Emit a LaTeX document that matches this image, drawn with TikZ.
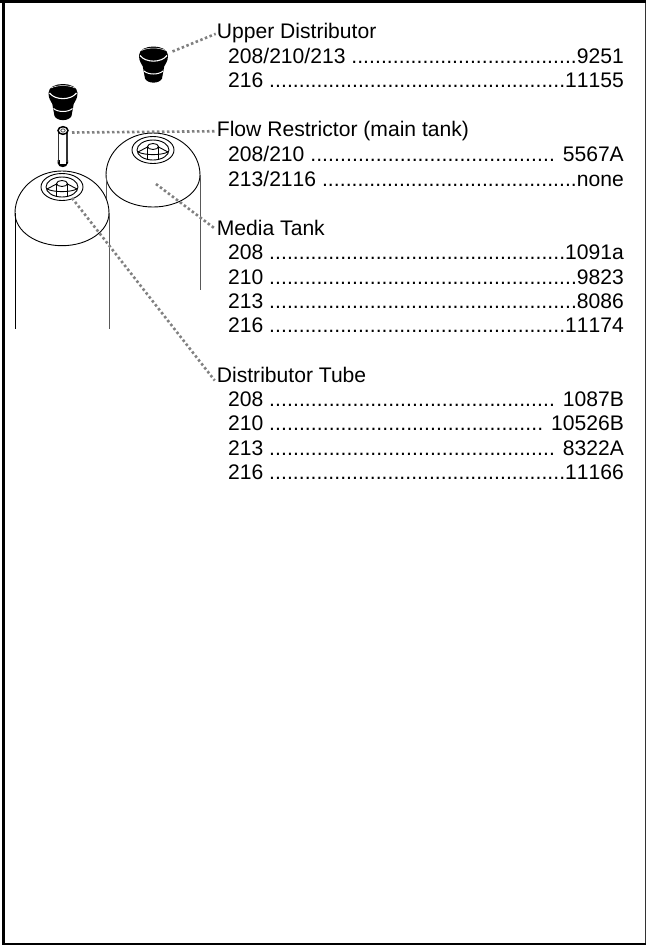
\documentclass[tikz,border=0pt]{standalone}
\usepackage{fontspec}
\setmainfont{Liberation Sans}
\newcommand{\dotsrun}[1]{\foreach \k in {1,...,#1}{.\hskip 0pt plus 1fil}}
\newcommand{\rowtext}[3]{\hbox to 395.5pt{\addfontfeature{Kerning=Off}#1 \dotsrun{#2}#3}}
\tikzset{
  x=1pt,y=-1pt,
  heading/.style={anchor=base west,inner sep=0pt,font=\fontsize{21.1pt}{24pt}\selectfont,text=black},
  entry/.style={heading},
  leader/.style={draw=black!50,line width=2.6pt,dash pattern=on 2.5pt off 2.5pt},
  tankline/.style={draw=black,line width=0.9pt},
  tankside/.style={draw=black!65,line width=0.9pt},
  fitting/.style={draw=black,line width=0.9pt}
}
\newcommand{\distcup}[2]{%
\begin{scope}[shift={(#1,#2)}]
  \fill[black] (-14.5,9) .. controls (-14.5,-3) and (14.5,-3) .. (14.5,9)
     .. controls (14.5,15) and (12,17) .. (10.7,20) -- (8.5,32) .. controls (6,37.5) and (-6,37.5) .. (-8.5,32) -- (-10.7,20)
     .. controls (-12,17) and (-14.5,15) .. (-14.5,9) -- cycle;
  \draw[white,line width=1.1pt] (-13.5,9) .. controls (-8,16.5) and (8,16.5) .. (13.5,9);
  \draw[white,line width=1pt] (-9.5,24.5) .. controls (-5,28.5) and (5,28.5) .. (9.5,24.5);
  \draw[white,line width=0.5pt] (-12,4) .. controls (-6,0.8) and (6,0.8) .. (12,4);
\end{scope}}
\newcommand{\tank}[5]{% centre x, top y, widest y, bottom y, foot y
  \fill[white] (#1-47,#3) .. controls (#1-47,#3-0.55*#3+0.55*#2) and (#1-26,#2) .. (#1,#2)
     .. controls (#1+26,#2) and (#1+47,#3-0.55*#3+0.55*#2) .. (#1+47,#3) -- (#1+47,#5) -- (#1-47,#5) -- cycle;
  \draw[tankline] (#1-47,#3) .. controls (#1-47,#3-0.55*#3+0.55*#2) and (#1-26,#2) .. (#1,#2)
     .. controls (#1+26,#2) and (#1+47,#3-0.55*#3+0.55*#2) .. (#1+47,#3);
  \draw[tankline] (#1-47,#3) .. controls (#1-47,#3-0.55*#3+0.55*#4) and (#1-26,#4) .. (#1,#4)
     .. controls (#1+26,#4) and (#1+47,#3-0.55*#3+0.55*#4) .. (#1+47,#3);
}
\newcommand{\neck}[2]{%
\begin{scope}[shift={(#1,#2)}]
  \draw[fitting] (0,0) ellipse [x radius=21,y radius=13.5];
  \draw[fitting] (0,0) ellipse [x radius=16,y radius=10];
  \draw[fitting] (-15,2) -- (-5.5,-3) (15,2) -- (5.5,-3);
  \draw[fitting] (-15,2) .. controls (-8,5.5) and (8,5.5) .. (15,2);
  \draw[fitting] (-5.5,-3) -- (-5.5,9) (5.5,-3) -- (5.5,9);
  \draw[fitting,fill=white] (0,-3.5) ellipse [x radius=5.5,y radius=3];
\end{scope}}
\begin{document}
\begin{tikzpicture}
\useasboundingbox (0,0) rectangle (646,945);
\fill[white] (0,0) rectangle (646,945);
\draw[black!80,line width=1.4pt] (645.3,0) -- (645.3,945);
\fill[black] (0,0) rectangle (646,3);
\fill[black] (2,0) rectangle (5,945);
\fill[black] (2,943) rectangle (646,945);

% tanks
\tank{153}{133}{175}{207}{290}
\draw[tankside] (106,175) -- (106,199);
\draw[tankside] (200,175) -- (200,290);
\neck{153}{150}
\tank{62}{171}{213}{245.7}{328.5}
\draw[tankline] (15.5,213) -- (15.5,328.5);
\draw[tankside] (109,213) -- (109,328.5);
\neck{62}{187}

% tube and restrictor
\fill[black] (57.5,160) -- (68,160) -- (68,163) .. controls (67,168.5) and (58.5,168.5) .. (57.5,163) -- cycle;
\fill[white] (59.5,130) rectangle (66,163.5);
\draw[draw=black!80,line width=1.1pt] (58.5,132) -- (58.5,162);
\draw[draw=black!80,line width=1.1pt] (67,132) -- (67,162);
\draw[fitting,fill=white,line width=1.5pt] (63,130.5) ellipse [x radius=5,y radius=3.8];
\draw[draw=black!70,line width=0.8pt] (63,130.5) ellipse [x radius=2.2,y radius=1.6];

% cups
\distcup{153.5}{46.5}
\distcup{63}{84}

% text
\node[heading] (upper) at (216.7,38.3) {Upper Distributor};
\node[entry] (u1) at (228,63) {\rowtext{208/210/213}{38}{9251}};
\node[entry] (u2) at (228,87.3) {\rowtext{216}{50}{11155}};
\node[heading] (flow) at (216.7,136.7) {Flow Restrictor (main tank)};
\node[entry] (f1) at (228,161.3) {\rowtext{208/210}{41}{ 5567A}};
\node[entry] (f2) at (228,186) {\rowtext{213/2116}{43}{none}};
\node[heading] (media) at (216.7,235) {Media Tank};
\node[entry] (m1) at (228,259.5) {\rowtext{208}{50}{1091a}};
\node[entry] (m2) at (228,284) {\rowtext{210}{52}{9823}};
\node[entry] (m3) at (228,308.3) {\rowtext{213}{52}{8086}};
\node[entry] (m4) at (228,332.7) {\rowtext{216}{50}{11174}};
\node[heading] (tube) at (216.7,382) {Distributor Tube};
\node[entry] (t1) at (228,406) {\rowtext{208}{48}{ 1087B}};
\node[entry] (t2) at (228,430.7) {\rowtext{210}{46}{ 10526B}};
\node[entry] (t3) at (228,455) {\rowtext{213}{48}{ 8322A}};
\node[entry] (t4) at (228,479.3) {\rowtext{216}{50}{11166}};

% leaders
\coordinate (cupend) at (172.5,51.5);
\coordinate (ringend) at (72,132.5);
\coordinate (tankend) at (156,184);
\coordinate (neckend) at (72,198);
\draw[leader] (cupend) -- ([xshift=-1pt,yshift=-1pt]upper.west);
\draw[leader] (ringend) -- ([xshift=-2pt,yshift=0pt]flow.west);
\draw[leader] (tankend) -- ([xshift=-2pt,yshift=-1pt]media.west);
\draw[leader] (neckend) -- ([xshift=-2pt,yshift=-6pt]tube.west);
\end{tikzpicture}
\end{document}
